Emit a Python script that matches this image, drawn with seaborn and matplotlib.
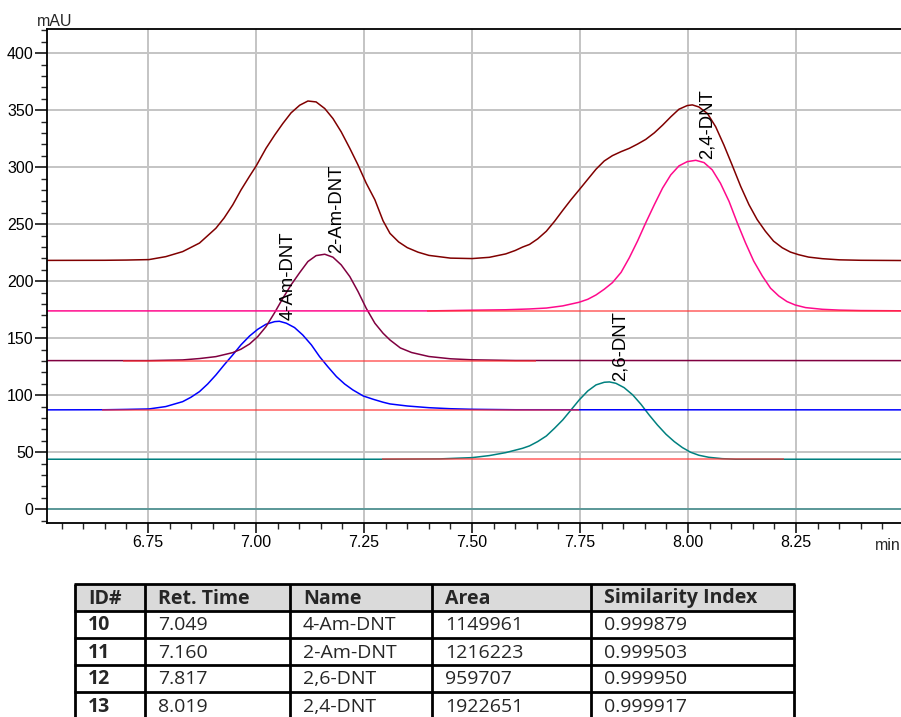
import numpy as np
import pandas as pd
import matplotlib
matplotlib.use("Agg")
import matplotlib.pyplot as plt
import seaborn as sns
from matplotlib.ticker import MultipleLocator, FormatStrFormatter

# settings
sns.set_theme(style="white")
plt.rcParams['font.family'] = ['Liberation Sans', 'DejaVu Sans']

# traces (time in min, signal in mAU)
sum_t = [6.516, 6.65, 6.70, 6.752, 6.791, 6.830, 6.869, 6.907, 6.926, 6.946, 6.965, 6.985,
         7.00, 7.023, 7.043, 7.062, 7.081, 7.101, 7.120, 7.139, 7.159, 7.178, 7.197, 7.217,
         7.236, 7.255, 7.275, 7.294, 7.310, 7.33, 7.35, 7.375, 7.40, 7.45, 7.50, 7.54,
         7.578, 7.60, 7.617, 7.633, 7.652, 7.672, 7.691, 7.710, 7.729, 7.748, 7.768, 7.787,
         7.806, 7.825, 7.845, 7.864, 7.883, 7.902, 7.922, 7.941, 7.960, 7.979, 7.998, 8.010,
         8.025, 8.045, 8.064, 8.083, 8.102, 8.122, 8.141, 8.160, 8.179, 8.198, 8.218, 8.237,
         8.256, 8.279, 8.311, 8.35, 8.40, 8.493]
sum_v = [218.3, 218.4, 218.6, 219.0, 221.6, 226.0, 233.5, 246.5, 255.5, 267.0, 280.0, 292.2,
         301.0, 316.6, 328.2, 338.4, 347.7, 354.4, 358.1, 357.3, 351.5, 342.7, 331.1, 316.6,
         302.0, 286.0, 271.5, 253.0, 242.0, 234.5, 229.5, 225.5, 222.7, 220.3, 219.9, 221.0,
         224.0, 227.0, 230.0, 232.3, 237.2, 243.9, 252.6, 262.2, 271.5, 280.2, 289.5, 298.3,
         305.5, 310.2, 313.7, 316.6, 320.3, 324.4, 330.2, 336.9, 344.2, 350.9, 354.1, 354.7,
         352.9, 347.1, 335.5, 319.5, 302.0, 283.1, 267.2, 254.1, 243.9, 235.2, 229.4, 225.6,
         223.3, 221.2, 219.8, 218.8, 218.4, 218.2]

dnt24_t = [6.516, 7.40, 7.50, 7.578, 7.633, 7.672, 7.710, 7.748, 7.768, 7.787, 7.806, 7.825,
           7.845, 7.864, 7.883, 7.902, 7.922, 7.941, 7.960, 7.979, 7.998, 8.018, 8.037, 8.056,
           8.075, 8.095, 8.114, 8.133, 8.152, 8.172, 8.191, 8.210, 8.229, 8.248, 8.272, 8.311,
           8.35, 8.40, 8.493]
dnt24_v = [174.0, 174.0, 174.6, 175.0, 175.7, 176.5, 178.4, 181.6, 184.2, 188.0, 193.0, 198.8,
           207.8, 220.6, 235.2, 251.2, 267.2, 281.7, 293.3, 301.2, 304.9, 306.1, 304.1, 297.7,
           286.0, 270.0, 251.2, 233.7, 217.7, 204.6, 193.9, 187.1, 182.2, 179.2, 176.9, 175.4,
           174.7, 174.3, 174.1]

am2_t = [6.516, 6.752, 6.830, 6.869, 6.907, 6.946, 6.965, 6.985, 7.004, 7.023, 7.043, 7.062,
         7.081, 7.101, 7.120, 7.139, 7.159, 7.178, 7.197, 7.217, 7.236, 7.255, 7.275, 7.294,
         7.310, 7.334, 7.36, 7.40, 7.45, 7.50, 7.60, 8.493]
am2_v = [130.4, 130.4, 131.0, 132.2, 133.9, 137.4, 140.4, 145.0, 151.5, 160.2, 172.5, 185.1,
         196.8, 207.6, 217.3, 222.5, 223.7, 221.1, 214.4, 204.1, 191.0, 176.3, 163.2, 154.4,
         148.5, 141.5, 137.5, 134.0, 132.0, 131.1, 130.5, 130.4]

am4_t = [6.516, 6.65, 6.70, 6.752, 6.791, 6.830, 6.849, 6.869, 6.888, 6.907, 6.926, 6.946,
         6.965, 6.985, 7.004, 7.023, 7.043, 7.054, 7.070, 7.089, 7.108, 7.128, 7.147, 7.166,
         7.186, 7.205, 7.224, 7.248, 7.271, 7.294, 7.310, 7.35, 7.40, 7.45, 7.50, 7.60, 8.493]
am4_v = [87.2, 87.3, 87.6, 88.0, 90.1, 94.4, 98.2, 103.2, 109.9, 117.8, 126.6, 135.4,
         144.2, 152.0, 157.9, 162.3, 164.6, 164.9, 163.2, 159.4, 152.9, 144.2, 133.9, 125.1,
         116.4, 109.9, 104.7, 99.4, 96.5, 93.9, 92.4, 90.6, 89.1, 88.2, 87.7, 87.3, 87.2]

dnt26_t = [6.516, 7.30, 7.425, 7.50, 7.54, 7.578, 7.617, 7.633, 7.652, 7.672, 7.691, 7.710,
           7.729, 7.748, 7.768, 7.787, 7.806, 7.818, 7.833, 7.852, 7.872, 7.891, 7.910, 7.929,
           7.949, 7.968, 7.987, 8.006, 8.025, 8.048, 8.079, 8.110, 8.493]
dnt26_v = [43.9, 43.9, 44.2, 45.3, 47.1, 49.7, 53.5, 55.6, 59.4, 64.3, 71.1, 78.4,
           87.1, 95.9, 103.8, 109.1, 111.4, 111.7, 110.5, 106.7, 100.3, 92.1, 82.7, 74.0,
           65.8, 59.4, 54.1, 50.0, 47.4, 45.6, 44.4, 43.9, 43.9]

blank_t = [6.516, 8.493]
blank_v = [0.0, 0.0]

# integration baselines (start, end, level)
base_start = [6.643, 6.693, 7.291, 7.395]
base_end = [7.748, 7.648, 8.222, 8.493]
base_level = [87.2, 130.4, 43.9, 174.0]

# peak table
ids = ['10', '11', '12', '13']
ret_times = [7.049, 7.160, 7.817, 8.019]
names = ['4-Am-DNT', '2-Am-DNT', '2,6-DNT', '2,4-DNT']
areas = [1149961, 1216223, 959707, 1922651]
similarity = [0.999879, 0.999503, 0.999950, 0.999917]

traces = [
    ('blank', blank_t, blank_v, '#3f8c8c'),
    ('2,6-DNT', dnt26_t, dnt26_v, '#00807f'),
    ('4-Am-DNT', am4_t, am4_v, '#0000ff'),
    ('2-Am-DNT', am2_t, am2_v, '#800040'),
    ('2,4-DNT', dnt24_t, dnt24_v, '#ff0a8c'),
    ('sum', sum_t, sum_v, '#800000'),
]
df = pd.concat([pd.DataFrame({'t': t, 'v': v, 'trace': n}) for n, t, v, c in traces],
               ignore_index=True)
palette = {n: c for n, t, v, c in traces}

fig = plt.figure(figsize=(9.01, 7.17), dpi=100)
ax = fig.add_axes([47 / 901, 1 - 523.3 / 717, 854 / 901, 494 / 717])

sns.lineplot(data=df, x='t', y='v', hue='trace', palette=palette, estimator=None,
             sort=False, legend=False, linewidth=1.1, ax=ax)

ax.hlines(base_level, base_start, base_end, colors='#ff3030', linewidth=1.3, alpha=0.65, zorder=3)

# peak labels
for name, rt in zip(names, ret_times):
    t, v = next((tt, vv) for n, tt, vv, c in traces if n == name)
    ax.text(rt + 0.006, max(v) + 1.0, name, rotation=90, ha='left', va='bottom',
            fontsize=13.3, color='black', zorder=5)

ax.set_xlim(6.516, 8.493)
ax.set_ylim(-12.3, 421)
ax.xaxis.set_major_locator(MultipleLocator(0.25))
ax.xaxis.set_minor_locator(MultipleLocator(0.05))
ax.xaxis.set_major_formatter(FormatStrFormatter('%.2f'))
ax.yaxis.set_major_locator(MultipleLocator(50))
ax.yaxis.set_minor_locator(MultipleLocator(10))
ax.grid(True, which='major', color='#c4c4c4', linewidth=1.4)
ax.set_axisbelow(True)
ax.set_xlabel('')
ax.set_ylabel('')
for s in ['left', 'bottom', 'top']:
    ax.spines[s].set_color('black')
    ax.spines[s].set_linewidth(1.3)
ax.spines['right'].set_visible(False)
ax.tick_params(axis='x', which='major', direction='out', length=7, width=1.1, pad=1.5,
               labelsize=11.5, bottom=True, colors='black')
ax.tick_params(axis='x', which='minor', direction='out', length=4.3, width=1.0, bottom=True)
ax.tick_params(axis='y', which='major', direction='out', length=8.6, width=1.1, pad=1,
               labelsize=11.5, left=True, colors='black')
ax.tick_params(axis='y', which='minor', direction='out', length=4.3, width=1.0, left=True)
ax.annotate('min', xy=(1, 0), xycoords='axes fraction', xytext=(0, -19.2),
            textcoords='offset points', ha='right', va='baseline', fontsize=11.5)
fig.text(37 / 901, 1 - 26 / 717, 'mAU', ha='left', va='baseline', fontsize=11.5)

# table drawn in pixel coordinates
tab = fig.add_axes([0, 0, 1, 1], facecolor='none')
tab.set_xlim(0, 901)
tab.set_ylim(717, 0)
tab.axis('off')
col_x = [75, 145, 290, 432, 591, 794]
row_y = [584, 611, 638, 665, 692, 719]
tab.add_patch(plt.Rectangle((col_x[0], row_y[0]), col_x[-1] - col_x[0], row_y[1] - row_y[0],
                            facecolor='#dadada', edgecolor='none'))
for x in col_x:
    tab.plot([x, x], [row_y[0], 730], color='black', lw=2, solid_capstyle='butt')
for y in row_y:
    tab.plot([col_x[0] - 1, col_x[-1] + 1], [y, y], color='black', lw=2, solid_capstyle='butt')

tfont = ['Open Sans', 'DejaVu Sans']
headers = ['ID#', 'Ret. Time', 'Name', 'Area', 'Similarity Index']
for j, h in enumerate(headers):
    tab.text(col_x[j] + 13, (row_y[0] + row_y[1]) / 2 + 1, h, ha='left', va='center',
             fontsize=14, fontweight='bold', family=tfont)
for i in range(len(ids)):
    cells = [ids[i], f'{ret_times[i]:.3f}', names[i], str(areas[i]), f'{similarity[i]:.6f}']
    yc = (row_y[i + 1] + row_y[i + 2]) / 2 + 1
    for j, c in enumerate(cells):
        tab.text(col_x[j] + 13, yc, c, ha='left', va='center', fontsize=14,
                 fontweight='bold' if j == 0 else 'normal', family=tfont)

fig.savefig('out.png', dpi=100)
